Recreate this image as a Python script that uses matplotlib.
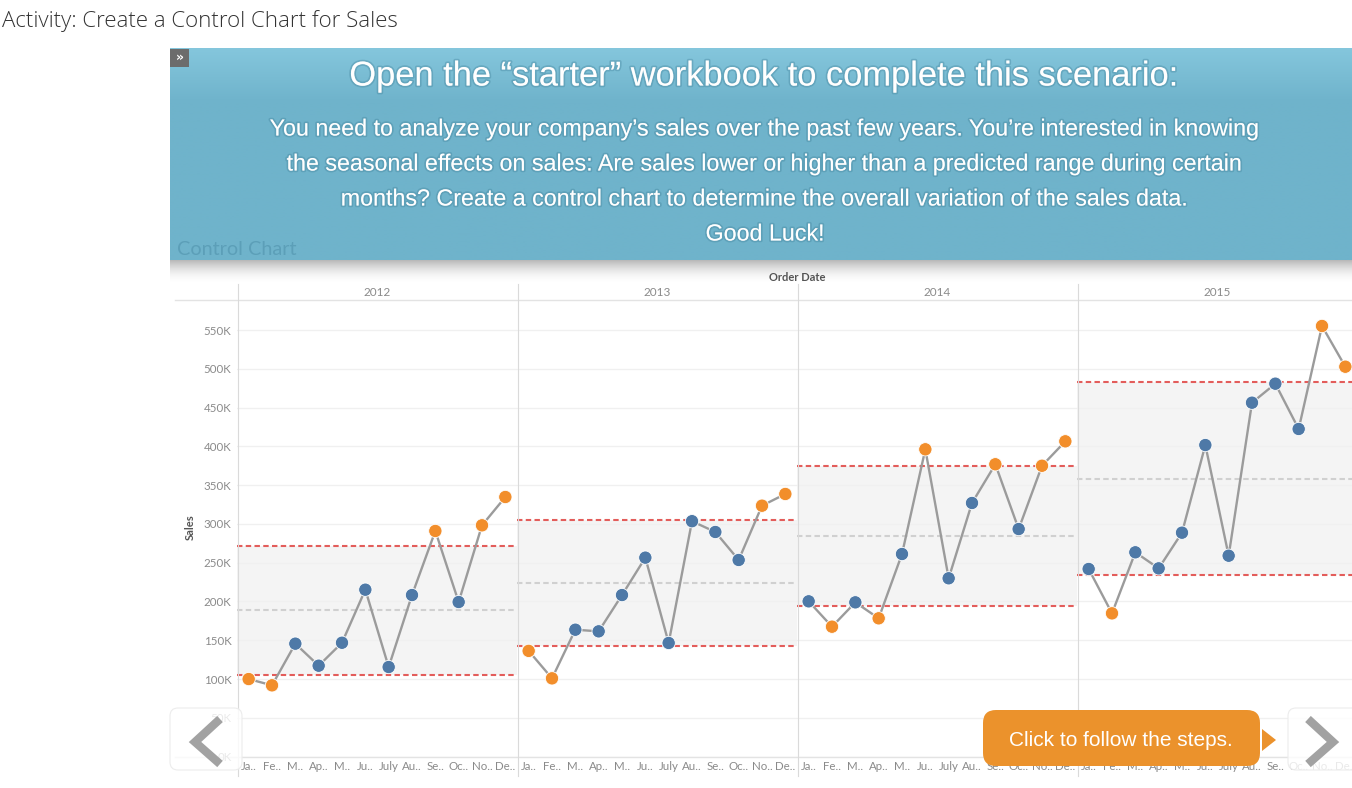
import matplotlib
matplotlib.use("Agg")
import matplotlib.pyplot as plt
import numpy as np
from matplotlib.patches import Rectangle, FancyBboxPatch, Polygon
import matplotlib.patheffects as pe

# ---------------- data (sales in thousands) ----------------
years = ["2012", "2013", "2014", "2015"]
months = ["Ja..", "Fe..", "M..", "Ap..", "M..", "Ju..", "July", "Au..", "Se..", "Oc..", "No..", "De.."]
sales_2012 = [100.0, 91.9, 145.6, 117.2, 146.8, 215.2, 115.5, 208.3, 290.9, 199.3, 298.2, 334.7]
sales_2013 = [136.3, 100.9, 163.6, 161.5, 208.3, 256.5, 146.5, 303.5, 289.6, 253.5, 323.5, 338.6]
sales_2014 = [200.2, 167.5, 198.9, 178.3, 261.2, 396.2, 229.9, 327.0, 376.9, 293.4, 375.0, 406.5]
sales_2015 = [241.9, 184.7, 263.4, 242.7, 288.7, 401.7, 259.0, 456.3, 480.8, 422.4, 555.2, 502.7]
series = [sales_2012, sales_2013, sales_2014, sales_2015]
y_ticks = [0, 50, 100, 150, 200, 250, 300, 350, 400, 450, 500, 550]

W, H = 1352, 788
fig = plt.figure(figsize=(W / 100, H / 100), dpi=100)
fig.patch.set_facecolor("white")


def fx(x):
    return x / W


def fy(y):
    return 1 - y / H


def pix_axes(zorder):
    a = fig.add_axes([0, 0, 1, 1], zorder=zorder)
    a.set_xlim(0, W)
    a.set_ylim(H, 0)
    a.axis("off")
    return a


LABEL = "#8a8a8a"
DARK = "#555555"
under = pix_axes(0)

PX0, PW, PTOP, PBOT = 237, 280, 300, 756.6
YMAX = (PBOT - PTOP) / 38.78 * 50

BLUE, ORANGE = "#4e79a7", "#f28e2b"

for i, (yr, vals) in enumerate(zip(years, series)):
    ax = fig.add_axes([fx(PX0 + i * PW), fy(PBOT), PW / W, (PBOT - PTOP) / H], zorder=0)
    ax.set_facecolor("none")
    for s in ax.spines.values():
        s.set_visible(False)
    x = np.arange(12)
    v = np.array(vals)
    m = v.mean()
    sd = v.std(ddof=1)
    ucl, lcl = m + sd, m - sd
    ax.set_xlim(-0.5, 11.5)
    ax.set_ylim(0, YMAX)
    ax.set_yticks(y_ticks)
    ax.grid(axis="y", color="#f0f0f0", lw=1)
    ax.grid(axis="x", visible=False)
    ax.set_axisbelow(True)
    ax.axhspan(lcl, ucl, color="#f4f4f4", zorder=0.2, lw=0)
    dash = (0, (2.6, 1.6))
    ax.axhline(ucl, color="#e35d5b", lw=1.5, ls=dash, zorder=2)
    ax.axhline(lcl, color="#e35d5b", lw=1.5, ls=dash, zorder=2)
    ax.axhline(m, color="#d0d0d0", lw=1.5, ls=dash, zorder=2)
    ax.plot(x, v, color="#9b9b9b", lw=1.7, zorder=3)
    cols = [ORANGE if (val > ucl or val < lcl) else BLUE for val in v]
    ax.scatter(x, v, s=92, c=cols, edgecolors="white", linewidths=0.6, zorder=4, clip_on=False)
    ax.set_xticks(x)
    ax.set_xticklabels(months, fontsize=8.3, color=LABEL, family="Lato")
    ax.tick_params(length=0, pad=3.2)
    if i == 0:
        ax.set_yticklabels([f"{t}K" for t in y_ticks], fontsize=8.3, color=LABEL, family="Lato")
        ax.tick_params(axis="y", pad=4)
    else:
        ax.tick_params(axis="y", labelleft=False)
    under.text(PX0 + i * PW + PW / 2, 292, yr, ha="center", va="center",
               fontsize=8.5, color=LABEL, family="Lato")

# header / frame lines
under.plot([175, W], [299.5, 299.5], color="#e3e3e3", lw=1)
under.plot([175, W], [756.6, 756.6], color="#e3e3e3", lw=1)
under.text(797, 277, "Order Date", ha="center", va="center", fontsize=8,
           fontweight="bold", color=DARK, family="Lato")
under.text(190, 527, "Sales", ha="center", va="center", fontsize=8, rotation=90,
           fontweight="bold", color=DARK, family="Lato")

mid = pix_axes(1)
for k in range(4):
    xx = PX0 + k * PW + 0.5
    mid.plot([xx, xx], [284, 776], color="#dadada", lw=0.8)

# ---------------- overlay ----------------
ov = pix_axes(10)

# page title
ov.text(2, 21, "Activity: Create a Control Chart for Sales", ha="left", va="center",
        fontsize=16, color="#333333", family="Open Sans", fontweight="light")

# banner shadow
sh = np.zeros((40, 2, 4))
t = np.linspace(0, 1, 40)
sh[:, :, :3] = 0.3
sh[:, :, 3] = (0.5 * (1 - t) ** 2)[:, None]
ov.imshow(sh, extent=(170, W, 285, 258), aspect="auto", interpolation="bilinear", zorder=1)

# banner
top = np.array([0x84, 0xc6, 0xdc]) / 255
base = np.array([0x6f, 0xb3, 0xcb]) / 255
g = np.clip(np.linspace(0, 1, 60) / 0.25, 0, 1)
band = (top[None, :] * (1 - g[:, None]) + base[None, :] * g[:, None])[:, None, :]
band = np.repeat(band, 2, axis=1)
ov.imshow(band, extent=(170, W, 260, 48), aspect="auto", interpolation="bilinear", zorder=2)

ov.text(177, 249, "Control Chart", ha="left", va="center", fontsize=14.3,
        color="#5c9fb8", family="Lato", zorder=3)

glow = [pe.withStroke(linewidth=2.5, foreground=(0.25, 0.5, 0.6, 0.35))]
ov.text(765, 77, "Open the \u201cstarter\u201d workbook to complete this scenario:",
        ha="center", va="center", fontsize=24.8, color="white",
        family="Liberation Sans", path_effects=glow, zorder=4)
para = ["You need to analyze your company\u2019s sales over the past few years. You\u2019re interested in knowing",
        "the seasonal effects on sales: Are sales lower or higher than a predicted range during certain",
        "months? Create a control chart to determine the overall variation of the sales data.",
        "Good Luck!"]
for j, line in enumerate(para):
    ov.text(765, 129 + 35 * j, line, ha="center", va="center", fontsize=16.75,
            color="white", family="Liberation Sans", path_effects=glow, zorder=4)

ov.add_patch(Rectangle((170, 49), 19, 18, fc="#6c6c6c", ec="none", zorder=5))
ov.text(179.5, 57.5, "\u00bb", ha="center", va="center", fontsize=9, color="white",
        fontweight="bold", zorder=6)

# navigation boxes
ov.add_patch(FancyBboxPatch((170, 708), 72, 62, boxstyle="round,pad=0,rounding_size=8",
                            fc=(1, 1, 1, 0.82), ec="#ececec", lw=0.8, zorder=5))
ov.plot([220, 195, 220], [719, 742, 764], color="#a2a2a2", lw=6,
        solid_joinstyle="miter", solid_capstyle="butt", zorder=6)
ov.add_patch(FancyBboxPatch((1288, 708), 72, 62, boxstyle="round,pad=0,rounding_size=8",
                            fc=(1, 1, 1, 0.82), ec="#ececec", lw=0.8, zorder=5))
ov.plot([1308, 1333, 1308], [719, 742, 764], color="#a2a2a2", lw=6,
        solid_joinstyle="miter", solid_capstyle="butt", zorder=6)

# callout
CALL = "#eb922c"
ov.add_patch(FancyBboxPatch((983, 710), 277, 56, boxstyle="round,pad=0,rounding_size=13",
                            fc=CALL, ec="none", zorder=5))
ov.add_patch(Polygon([(1262, 729), (1276, 740), (1262, 751)], closed=True, fc=CALL,
                     ec="none", zorder=5))
ov.text(1121, 740, "Click to follow the steps.", ha="center", va="center", fontsize=15,
        color="white", family="Liberation Sans", zorder=6)

fig.savefig("out.png", dpi=100)
